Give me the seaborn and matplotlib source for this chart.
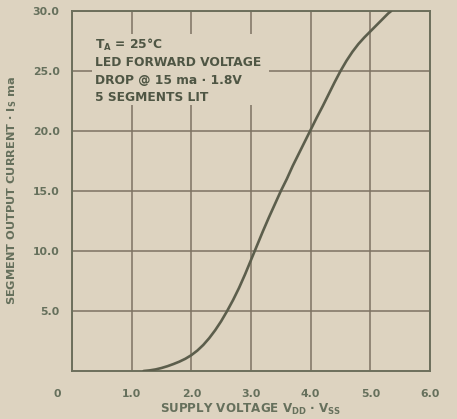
import matplotlib
matplotlib.use("Agg")
import matplotlib.pyplot as plt
import matplotlib.transforms as mtrans
from matplotlib.patches import Rectangle
import seaborn as sns
import pandas as pd

# Supply voltage (V) vs segment output current (mA)
supply_voltage = [1.2, 1.3, 1.4, 1.5, 1.6, 1.7, 1.8, 1.9, 2.0, 2.1, 2.2,
                  2.3, 2.4, 2.5, 2.6, 2.7, 2.8, 2.9, 3.0, 3.1, 3.2, 3.3,
                  3.4, 3.5, 3.6, 3.7, 3.8, 3.9, 4.0, 4.1, 4.2, 4.3, 4.4,
                  4.5, 4.6, 4.7, 4.8, 4.9, 5.0, 5.1, 5.2, 5.3, 5.35]
segment_current = [0.0, 0.05, 0.13, 0.25, 0.4, 0.58, 0.78, 1.02, 1.32, 1.7,
                   2.17, 2.74, 3.4, 4.15, 5.0, 5.92, 6.93, 8.05, 9.25, 10.45,
                   11.65, 12.8, 13.9, 15.0, 16.0, 17.1, 18.1, 19.1, 20.1,
                   21.1, 22.05, 23.05, 24.05, 25.0, 25.85, 26.6, 27.25,
                   27.8, 28.3, 28.8, 29.3, 29.8, 30.0]

x_ticks = [0, 1, 2, 3, 4, 5, 6]
x_tick_labels = ["0", "1.0", "2.0", "3.0", "4.0", "5.0", "6.0"]
y_ticks = [5, 10, 15, 20, 25, 30]
y_tick_labels = ["5.0", "10.0", "15.0", "20.0", "25.0", "30.0"]

note_lines = ["T$_A$ = 25°C",
              "LED FORWARD VOLTAGE",
              "DROP @ 15 ma · 1.8V",
              "5 SEGMENTS LIT"]

BG = "#ddd3c0"
GRID = "#7d7263"
SPINE = "#6c6f5c"
CURVE = "#5c5e4c"
LABEL = "#66705c"
NOTE = "#4f5644"

sns.set_theme(style="whitegrid")
plt.rcParams["font.family"] = ["DejaVu Sans"]
plt.rcParams["font.weight"] = "bold"
plt.rcParams["mathtext.fontset"] = "custom"
plt.rcParams["mathtext.bf"] = "DejaVu Sans:bold"
plt.rcParams["mathtext.rm"] = "DejaVu Sans:bold"
plt.rcParams["mathtext.default"] = "bf"

fig = plt.figure(figsize=(4.57, 4.19), dpi=100, facecolor=BG)
ax = fig.add_axes([72 / 457, 1 - 371 / 419, 358 / 457, 360 / 419])
ax.set_facecolor(BG)

df = pd.DataFrame({"v": supply_voltage, "i": segment_current})
sns.lineplot(data=df, x="v", y="i", ax=ax, color=CURVE, linewidth=1.9,
             zorder=4, sort=False)

ax.set_xlim(0, 6)
ax.set_ylim(0, 30)
ax.set_xticks(x_ticks)
ax.set_xticklabels(x_tick_labels)
ax.set_yticks(y_ticks)
ax.set_yticklabels(y_tick_labels)
ax.grid(True, color=GRID, linewidth=1.1, alpha=1.0)
ax.set_axisbelow(True)
ax.tick_params(axis="both", length=0, labelsize=7.8, labelcolor=LABEL)
ax.tick_params(axis="x", pad=13)
ax.tick_params(axis="y", pad=9)
for lbl in ax.get_xticklabels() + ax.get_yticklabels():
    lbl.set_fontweight("bold")
# the origin label sits left of the corner
origin_lbl = ax.get_xticklabels()[0]
origin_lbl.set_transform(origin_lbl.get_transform()
                         + mtrans.ScaledTranslation(-15 / 100, 0,
                                                    fig.dpi_scale_trans))

for s in ax.spines.values():
    s.set_color(SPINE)
    s.set_linewidth(1.4)
    s.set_visible(True)

# clear the grid behind the condition notes
ax.add_patch(Rectangle((0.33, 22.2), 2.97, 5.85, facecolor=BG,
                       edgecolor="none", zorder=2))
note_y = [27.15, 25.7, 24.25, 22.8]
for txt, yy in zip(note_lines, note_y):
    ax.text(0.38, yy, txt, fontsize=8.8, fontweight="bold", color=NOTE,
            va="center", ha="left", zorder=3)

ax.set_xlabel("SUPPLY VOLTAGE V$_{DD}$ · V$_{SS}$", fontsize=8.6,
              fontweight="bold", color=LABEL, labelpad=2)
ax.set_ylabel("SEGMENT OUTPUT CURRENT · I$_S$ ma", fontsize=8.2,
              fontweight="bold", color=LABEL, labelpad=10)

fig.savefig("out.png", dpi=100, facecolor=BG)
